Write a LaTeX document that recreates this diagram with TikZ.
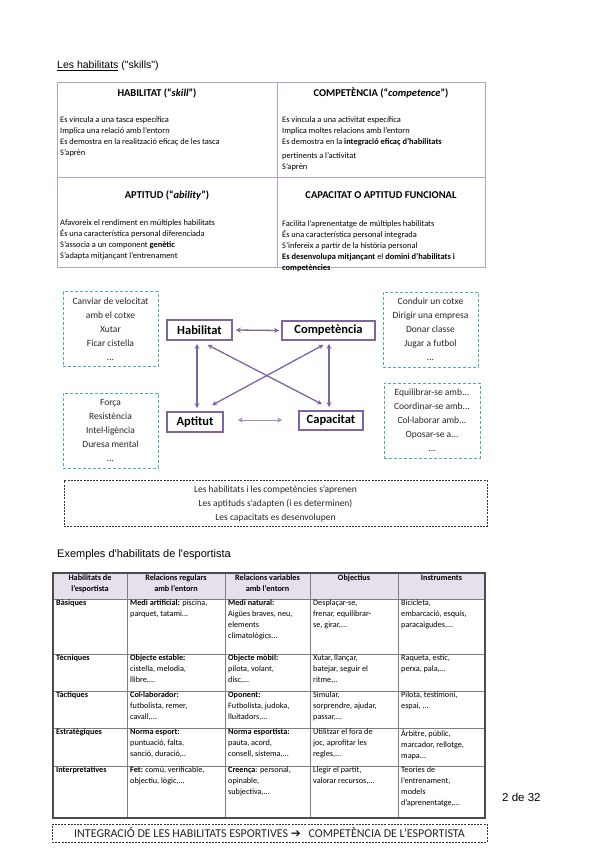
\documentclass[tikz,border=0pt]{standalone}
\usepackage{fontspec}
\setmainfont{Carlito}
\newfontfamily\helv{Liberation Sans}
\newfontfamily\dejavu{DejaVu Sans}
\usetikzlibrary{arrows.meta,calc}
\definecolor{purp}{HTML}{8064A2}
\definecolor{lpurp}{HTML}{B3A2C7}
\definecolor{dblue}{HTML}{4BACC6}
\definecolor{hdrfill}{HTML}{E5E0EC}
\definecolor{tgray}{HTML}{7F7F7F}
\begin{document}
\begin{tikzpicture}[x=1pt,y=-1pt,
  tline/.style={draw=lpurp, line width=0.9pt},
  thead/.style={font=\fontsize{10.5}{12}\selectfont\bfseries, inner sep=0pt},
  tbody/.style={anchor=north west, align=left, font=\fontsize{8.4}{11.2}\selectfont, inner sep=0pt},
  conbox/.style={draw=purp, line width=1.6pt, fill=white, font=\fontsize{12.5}{13}\selectfont\bfseries, inner sep=0pt},
  bibarrow/.style={{Stealth[length=5pt,width=5pt]}-{Stealth[length=5pt,width=5pt]}, draw=purp, line width=1.3pt},
  exbox/.style={draw=dblue, line width=1pt, dash pattern=on 3pt off 2pt, align=center, font=\fontsize{9.5}{14}\selectfont, text=black!85, inner sep=0pt, minimum width=95pt, minimum height=75pt},
  sumbox/.style={draw=black!80, line width=0.6pt, dash pattern=on 2pt off 1.2pt},
  btext/.style={anchor=north west, align=left, font=\fontsize{8.2}{11}\selectfont, inner sep=0pt},
  bhead/.style={anchor=north, align=center, font=\fontsize{8.2}{10.5}\selectfont\bfseries, inner sep=0pt},
  bline/.style={draw=tgray, line width=0.8pt},
]
\useasboundingbox[fill=white] (0,0) rectangle (599,848);

% ---------- title ----------
\node[anchor=base west, inner sep=0pt, font=\helv\fontsize{10.5}{12}\selectfont] (title) at (57,69) {\underline{Les habilitats} ("skills")};

% ---------- top table ----------
\draw[tline] (57,82) rectangle (485,267);
\draw[tline] (277,82) -- (277,267);
\draw[tline] (57,177) -- (485,177);

\node[thead] (h1) at (157,93) {HABILITAT (“\textit{skill}”)};
\node[thead] (h2) at (381,93) {COMPETÈNCIA (“\textit{competence}”)};
\node[thead] (h3) at (167,195) {APTITUD (“\textit{ability}”)};
\node[thead] (h4) at (381,195) {CAPACITAT O APTITUD FUNCIONAL};

\node[tbody] (b1) at (60,116) {Es vincula a una tasca específica\\Implica una relació amb l'entorn\\Es demostra en la realització eficaç de les tasca\\S'aprèn};
\node[tbody] (b2) at (282,116) {Es vincula a una activitat específica\\Implica moltes relacions amb l'entorn\\Es demostra en la \textbf{integració eficaç d'habilitats}\\[3pt]pertinents a l'activitat\\S'aprèn};
\node[tbody] (b3) at (60,219) {Afavoreix el rendiment en múltiples habilitats\\És una característica personal diferenciada\\S'associa a un component \textbf{genètic}\\S'adapta mitjançant l'entrenament};
\node[tbody] (b4) at (282,220) {Facilita l'aprenentatge de múltiples habilitats\\És una característica personal integrada\\S'infereix a partir de la història personal\\\textbf{Es desenvolupa mitjançant} el \textbf{domini d'habilitats i}\\\textbf{competències}};

% ---------- concept diagram ----------
\node[conbox, minimum width=65pt, minimum height=20pt] (hab) at (199.5,330) {Habilitat};
\node[conbox, minimum width=93pt, minimum height=19pt] (comp) at (328.5,330.5) {Competència};
\node[conbox, minimum width=56pt, minimum height=20pt] (apt) at (195,422) {Aptitut};
\node[conbox, minimum width=64pt, minimum height=19pt] (cap) at (331,420.5) {Capacitat};

\draw[bibarrow] ($(hab.east)+(3,0)$) -- ($(comp.west)+(-2,0)$);
\draw[bibarrow] ($(hab.south)+(-2.5,3)$) -- ($(apt.north)+(2,-3)$);
\draw[bibarrow] ($(comp.south)+(0.5,3)$) -- ($(cap.north)+(-2,-3)$);
\draw[bibarrow] ($(hab.south)+(8,4)$) -- ($(cap.north)+(-9,-6)$);
\draw[bibarrow] ($(comp.south)+(-5,4)$) -- ($(apt.north)+(17,-6)$);
\draw[bibarrow, draw=purp!75, line width=0.9pt] ($(apt.east)+(14,-2)$) -- ($(cap.west)+(-16,-0.5)$);

\node[exbox] (ex1) at (110.5,329) {Canviar de velocitat\\amb el cotxe\\Xutar\\Ficar cistella\\...};
\node[exbox] (ex2) at (430.5,329.5) {Conduir un cotxe\\Dirigir una empresa\\Donar classe\\Jugar a futbol\\...};
\node[exbox] (ex3) at (110.5,430.5) {Força\\Resistència\\Intel·ligència\\Duresa mental\\...};
\node[exbox, minimum width=96pt] (ex4) at (432,420.5) {Equilibrar-se amb...\\Coordinar-se amb...\\Col·laborar amb...\\Oposar-se a...\\...};

% ---------- summary box ----------
\node[sumbox, minimum width=423pt, minimum height=46pt, inner sep=0pt, align=center, font=\fontsize{9.5}{14}\selectfont, text=black!85] (sum) at (275.5,503.5) {Les habilitats i les competències s'aprenen\\Les aptituds s'adapten (i es determinen)\\Les capacitats es desenvolupen};

% ---------- second title ----------
\node[anchor=base west, inner sep=0pt, font=\helv\fontsize{11}{13}\selectfont] (title2) at (57,557) {Exemples d'habilitats de l'esportista};

% ---------- bottom table ----------
\fill[hdrfill] (53,573) rectangle (485,599);
\foreach \yy in {599,654,691,728,766} {\draw[bline] (53,\yy) -- (485,\yy);}
\foreach \xx in {127,225,310,398} {\draw[bline] (\xx,573) -- (\xx,818);}
\draw[draw=black!70, line width=1.1pt] (53,573) rectangle (485,818);

\node[bhead] (th0) at (90,575) {Habilitats de\\l'esportista};
\node[bhead] (th1) at (176,575) {Relacions regulars\\amb l'entorn};
\node[bhead] (th2) at (267.5,575) {Relacions variables\\amb l'entorn};
\node[bhead] (th3) at (354,575) {Objectius};
\node[bhead] (th4) at (441.5,575) {Instruments};

% row Basiques
\node[btext] (r1c0) at (56,600) {\textbf{Bàsiques}};
\node[btext] (r1c1) at (130,600) {\textbf{Medi artificial:} piscina,\\parquet, tatami...};
\node[btext] (r1c2) at (228,600) {\textbf{Medi natural:}\\Aigües braves, neu,\\elements\\climatològics...};
\node[btext] (r1c3) at (313,600) {Desplaçar-se,\\frenar, equilibrar-\\se, girar,...};
\node[btext] (r1c4) at (401,600) {Bicicleta,\\embarcació, esquís,\\paracaigudes,...};
% row Tecniques
\node[btext] (r2c0) at (56,655) {\textbf{Tècniques}};
\node[btext] (r2c1) at (130,655) {\textbf{Objecte estable:}\\cistella, melodia,\\llibre,...};
\node[btext] (r2c2) at (228,655) {\textbf{Objecte mòbil:}\\pilota, volant,\\disc,...};
\node[btext] (r2c3) at (313,655) {Xutar, llançar,\\batejar, seguir el\\ritme,..};
\node[btext] (r2c4) at (401,655) {Raqueta, estic,\\perxa, pala,...};
% row Tactiques
\node[btext] (r3c0) at (56,692) {\textbf{Tàctiques}};
\node[btext] (r3c1) at (130,692) {\textbf{Col·laborador:}\\futbolista, remer,\\cavall,...};
\node[btext] (r3c2) at (228,692) {\textbf{Oponent:}\\Futbolista, judoka,\\lluitadors,...};
\node[btext] (r3c3) at (313,692) {Simular,\\sorprendre, ajudar,\\passar,...};
\node[btext] (r3c4) at (401,692) {Pilota, testimoni,\\espai, ...};
% row Estrategiques
\node[btext] (r4c0) at (56,729) {\textbf{Estratègiques}};
\node[btext] (r4c1) at (130,729) {\textbf{Norma esport:}\\puntuació, falta,\\sanció, duració,..};
\node[btext] (r4c2) at (228,729) {\textbf{Norma esportista:}\\pauta, acord,\\consell, sistema,...};
\node[btext] (r4c3) at (313,729) {Utilitzar el fora de\\joc, aprofitar les\\regles,...};
\node[btext] (r4c4) at (401,729) {Àrbitre, públic,\\marcador, rellotge,\\mapa...};
% row Interpretatives
\node[btext] (r5c0) at (56,767) {\textbf{Interpretatives}};
\node[btext] (r5c1) at (130,767) {\textbf{Fet:} comú, verificable,\\objectiu, lògic,...};
\node[btext] (r5c2) at (228,767) {\textbf{Creença}: personal,\\opinable,\\subjectiva,...};
\node[btext] (r5c3) at (313,767) {Llegir el partit,\\valorar recursos,...};
\node[btext] (r5c4) at (401,767) {Teories de\\l'entrenament,\\models\\d'aprenentatge,...};

% page number
\node[anchor=base west, inner sep=0pt, font=\helv\fontsize{11.5}{13}\selectfont] (pg) at (502,801) {2 de 32};

% ---------- bottom banner ----------
\node[sumbox, minimum width=435pt, minimum height=18pt, inner sep=0pt, font=\fontsize{12}{13}\selectfont, text=black!85] (ban) at (269.5,833) {INTEGRACIÓ DE LES HABILITATS ESPORTIVES {\dejavu\symbol{"2794}}\hspace{5pt} COMPETÈNCIA DE L'ESPORTISTA};
\end{tikzpicture}
\end{document}
